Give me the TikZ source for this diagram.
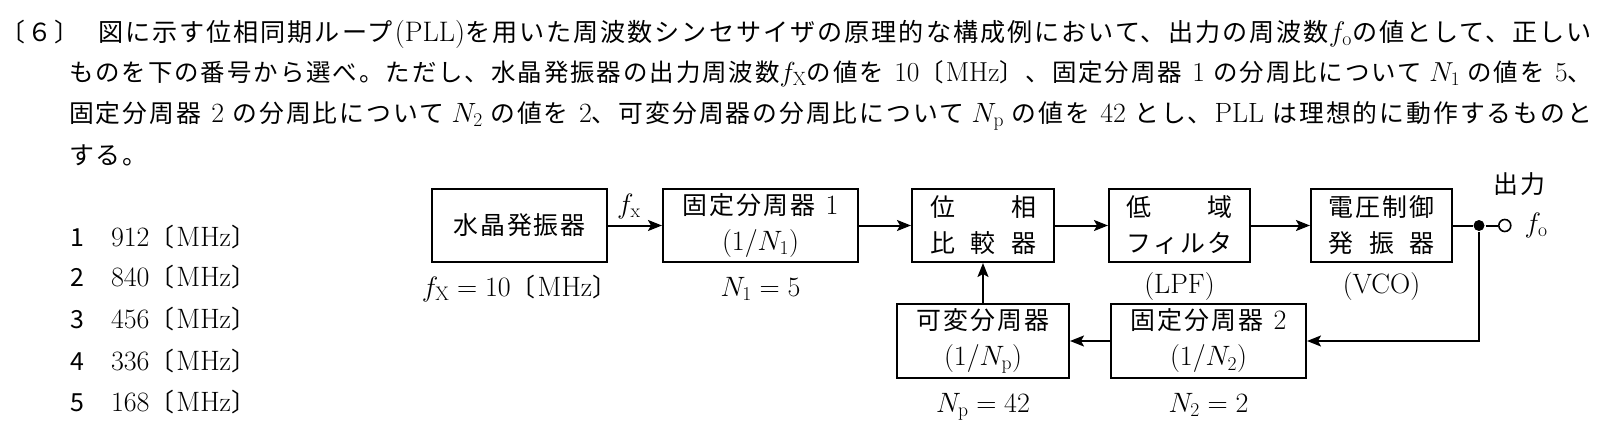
\RequirePackage{fix-cm}
\documentclass[tikz,border=0pt]{standalone}
\usepackage{graphicx}
\usepackage{fontspec}
\newfontfamily\jp{Noto Sans CJK JP}[Scale=0.89, LetterSpace=8]
\usetikzlibrary{positioning}
\usetikzlibrary{arrows.meta}

\begin{document}
\begin{tikzpicture}[x=1pt, y=-1pt,
                          font=\fontsize{28}{36}\selectfont\jp,
                          line width=2pt,
                          >={Stealth[length=14pt, width=11pt, inset=3pt]},
                          block/.style={rectangle, draw, line width=2pt, minimum height=73pt, inner sep=0pt, align=center},
                          val/.style={inner sep=0pt},
                          textline/.style={inner sep=0pt, anchor=base west},
                      ]
                      \useasboundingbox (0,0) rectangle (1615,441);

                      % Question
                      \node[textline]   (qnum)   at (0,41.5)    {〔６〕};
                      \node[textline]   (line1)  at (97,41.5)   {\resizebox{1494pt}{!}{図に示す位相同期ループ\textrm{(PLL)}を用いた周波数シンセサイザの原理的な構成例において、出力の周波数$f_{\mathrm{o}}$の値として、正しい}};
                      \node[textline]   (line2)  at (68,81.5)   {\resizebox{1523pt}{!}{ものを下の番号から選べ。ただし、水晶発振器の出力周波数$f_{\mathrm{X}}$の値を\textrm{ 10}〔\textrm{MHz}〕、固定分周器\textrm{ 1 }の分周比について $N_1$ の値を\textrm{ 5}、}};
                      \node[textline]   (line3)  at (68,122.5)  {\resizebox{1523pt}{!}{固定分周器\textrm{ 2 }の分周比について $N_2$ の値を\textrm{ 2}、可変分周器の分周比について $N_{\mathrm{p}}$ の値を\textrm{ 42 }とし、\textrm{PLL }は理想的に動作するものと}};
                      \node[textline]   (line4)  at (68,164.5)  {する。};

                      % Answers
                      \node[val, anchor=base]  (num1)  at (77,246)  {1};
                      \node[textline]          (ans1)  at (110,246) {\textrm{912}〔\textrm{MHz}〕};
                      \node[val, anchor=base]  (num2)  at (77,286)  {2};
                      \node[textline]          (ans2)  at (110,286) {\textrm{840}〔\textrm{MHz}〕};
                      \node[val, anchor=base]  (num3)  at (77,328)  {3};
                      \node[textline]          (ans3)  at (110,328) {\textrm{456}〔\textrm{MHz}〕};
                      \node[val, anchor=base]  (num4)  at (77,370)  {4};
                      \node[textline]          (ans4)  at (110,370) {\textrm{336}〔\textrm{MHz}〕};
                      \node[val, anchor=base]  (num5)  at (77,411)  {5};
                      \node[textline]          (ans5)  at (110,411) {\textrm{168}〔\textrm{MHz}〕};

                      % Blocks
                      \node[block, minimum width=175pt]   (xtal)   at (519.5,225.5)         {水晶発振器};
                      \node[block, minimum width=195pt]   (fdiv1)  [right=54pt of xtal]     {固定分周器\textrm{ 1}\\$(1/N_1)$};
                      \node[block, minimum width=142pt]   (phase)  [right=52pt of fdiv1]    {\makebox[106pt]{位\hfill 相}\\\makebox[106pt]{比\hfill 較\hfill 器}};
                      \node[block, minimum width=141pt]   (lpf)    [right=53pt of phase]    {\makebox[106pt]{低\hfill 域}\\フィルタ};
                      \node[block, minimum width=141pt]   (vco)    [right=59pt of lpf]      {電圧制御\\\makebox[106pt]{発\hfill 振\hfill 器}};
                      \node[block, minimum width=172pt, minimum height=74pt] (vdiv)  [below=40pt of phase]  {可変分周器\\$(1/N_{\mathrm{p}})$};
                      \node[block, minimum width=195pt, minimum height=74pt] (fdiv2) [right=40pt of vdiv]   {固定分周器\textrm{ 2}\\$(1/N_2)$};

                      % Output terminal
                      \node[circle, fill, inner sep=0pt, minimum size=11pt]          (branch)  [right=19.5pt of vco]     {};
                      \node[circle, draw, fill=white, line width=1.6pt, inner sep=0pt, minimum size=12pt] (outterm) [right=12.5pt of branch] {};
                      \node[val]   (fo)      [right=12pt of outterm]    {$f_{\mathrm{o}}$};
                      \node[val]   (outlbl)  [above=22pt of outterm, xshift=15pt] {出力};
                      \coordinate  (fbcorner) at (branch |- fdiv2.east);

                      % Labels
                      \node[val]   (fx)      [above right=6pt and 8pt of xtal.east]   {$f_{\mathrm{x}}$};
                      \node[val]   (fxval)   [below=11pt of xtal]    {$f_{\mathrm{X}}=10$〔\textrm{MHz}〕};
                      \node[val]   (n1val)   [below=13pt of fdiv1]   {$N_1=5$};
                      \node[val]   (lpflbl)  [below=9pt of lpf]      {\textrm{(LPF)}};
                      \node[val]   (vcolbl)  [below=9pt of vco]      {\textrm{(VCO)}};
                      \node[val]   (npval)   [below=13pt of vdiv]    {$N_{\mathrm{p}}=42$};
                      \node[val]   (n2val)   [below=13pt of fdiv2]   {$N_2=2$};

                      %Lines
                      \draw[->] (xtal) -- (fdiv1);
                      \draw[->] (fdiv1) -- (phase);
                      \draw[->] (phase) -- (lpf);
                      \draw[->] (lpf) -- (vco);
                      \draw (vco) -- (branch);
                      \draw (branch) -- (outterm);
                      \draw[->] (branch) -- (fbcorner) -- (fdiv2);
                      \draw[->] (fdiv2) -- (vdiv);
                      \draw[->] (vdiv) -- (phase);
                  \end{tikzpicture}
\end{document}
